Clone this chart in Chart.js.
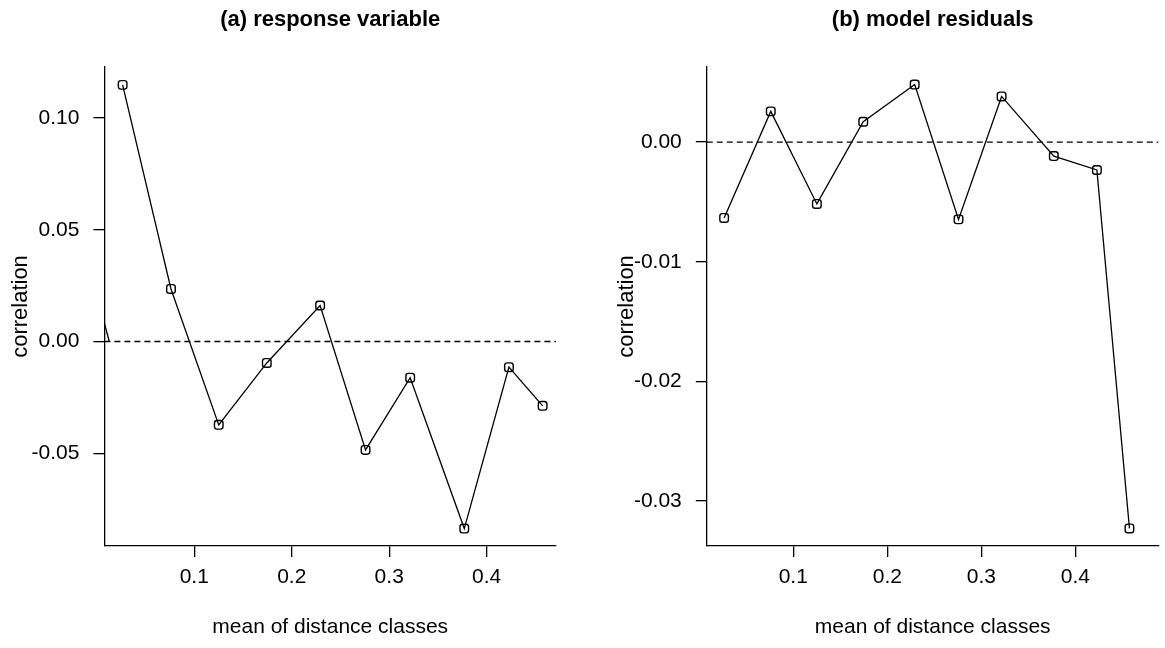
<!DOCTYPE html>
<html><head><meta charset="utf-8">
<script src="https://cdn.jsdelivr.net/npm/chart.js@4/dist/chart.umd.min.js"></script>
<style>
html,body{margin:0;padding:0;background:#fff;}
#wrap{position:relative;width:1165px;height:648px;overflow:hidden;background:#fff;}
.panel{position:absolute;top:0;height:648px;}
</style></head><body>
<div id="wrap">
<div class="panel" style="left:0;width:583px"><canvas id="ca" width="583" height="648"></canvas></div>
<div class="panel" style="left:583px;width:582px"><canvas id="cb" width="582" height="648"></canvas></div>
</div>
<script>
// ---- data ----
const distanceClassMeans = [0.0265, 0.0761, 0.1251, 0.1744, 0.2291, 0.2757, 0.3215, 0.3770, 0.4228, 0.4574];
const responseCorrelation = [0.1148, 0.0235, -0.0373, -0.0096, 0.0161, -0.0485, -0.0162, -0.0837, -0.0115, -0.0288];
const residualCorrelation = [-0.00634, 0.00257, -0.00517, 0.00170, 0.00481, -0.00646, 0.00382, -0.00117, -0.00233, -0.0323];
const strayLineX = [0.0078, 0.0128];
const strayLineY = [0.0082, 0.0];
const xTickValues = [0.1, 0.2, 0.3, 0.4];
const yTicksResponse = [-0.05, 0.00, 0.05, 0.10];
const yTicksResiduals = [-0.03, -0.02, -0.01, 0.00];
const panelTitles = ['(a) response variable', '(b) model residuals'];
const xAxisTitle = 'mean of distance classes';
const yAxisTitle = 'correlation';

const FONT = 'Liberation Sans, Arial, Helvetica, sans-serif';
const INK = '#000';

function makePanel(canvas, opts) {
  const pts = distanceClassMeans.map((x, i) => ({x: x, y: opts.values[i]}));
  const datasets = [
    {
      data: [{x: opts.xMin, y: 0}, {x: opts.xMax, y: 0}],
      showLine: true, borderColor: INK, borderWidth: 1.3, borderDash: [6, 4],
      pointRadius: 0
    },
    {
      data: pts,
      showLine: true, borderColor: INK, borderWidth: 1.3,
      pointStyle: 'rectRounded', pointRadius: 5, pointBorderWidth: 1.4,
      pointBorderColor: INK, pointBackgroundColor: 'rgba(0,0,0,0)'
    }
  ];
  if (opts.stray) {
    datasets.push({
      data: strayLineX.map((x, i) => ({x: x, y: strayLineY[i]})),
      showLine: true, borderColor: INK, borderWidth: 1.3, pointRadius: 0
    });
  }
  return new Chart(canvas, {
    type: 'scatter',
    data: {datasets: datasets},
    options: {
      responsive: false, animation: false, devicePixelRatio: 1,
      layout: {padding: {top: 0, left: 0, bottom: 0, right: opts.padRight}},
      plugins: {
        legend: {display: false}, tooltip: {enabled: false},
        title: {
          display: true, text: opts.title, fullSize: false, color: INK,
          font: {family: FONT, size: 22, weight: 'bold'},
          padding: {top: 6.8, bottom: 33.8}
        }
      },
      scales: {
        x: {
          type: 'linear', min: opts.xMin, max: opts.xMax,
          afterBuildTicks: s => { s.ticks = xTickValues.map(v => ({value: v})); },
          afterFit: s => { s.height = 102; },
          ticks: {callback: v => Number(v).toFixed(1), color: INK, padding: 8,
                  font: {family: FONT, size: 21}, maxRotation: 0, autoSkip: false},
          grid: {display: true, drawOnChartArea: false, drawTicks: true, tickLength: 11,
                 color: INK, lineWidth: 1.3},
          border: {display: true, color: INK, width: 1.3},
          title: {display: true, text: xAxisTitle, color: INK,
                  font: {family: FONT, size: 21}, padding: {top: 0, bottom: 7.9}}
        },
        y: {
          type: 'linear', min: opts.yMin, max: opts.yMax,
          afterBuildTicks: s => { s.ticks = opts.yTicks.map(v => ({value: v})); },
          afterFit: s => { s.width = opts.yWidth; },
          ticks: {callback: v => Number(v).toFixed(2), color: INK, padding: 14,
                  font: {family: FONT, size: 21}, autoSkip: false},
          grid: {display: true, drawOnChartArea: false, drawTicks: true, tickLength: 11,
                 color: INK, lineWidth: 1.3},
          border: {display: true, color: INK, width: 1.3},
          title: {display: true, text: yAxisTitle, color: INK,
                  font: {family: FONT, size: 22}, padding: {top: opts.yTitlePad, bottom: 0}}
        }
      }
    }
  });
}

makePanel(document.getElementById('ca'), {
  values: responseCorrelation, yTicks: yTicksResponse, title: panelTitles[0],
  xMin: 0.0078, xMax: 0.4711, yMin: -0.0915, yMax: 0.1228,
  yWidth: 104.4, padRight: 27, yTitlePad: 8, stray: true
});
makePanel(document.getElementById('cb'), {
  values: residualCorrelation, yTicks: yTicksResiduals, title: panelTitles[1],
  xMin: 0.0081, xMax: 0.4884, yMin: -0.03377, yMax: 0.00628,
  yWidth: 123.8, padRight: 3, yTitlePad: 31, stray: false
});
</script>
</body></html>
